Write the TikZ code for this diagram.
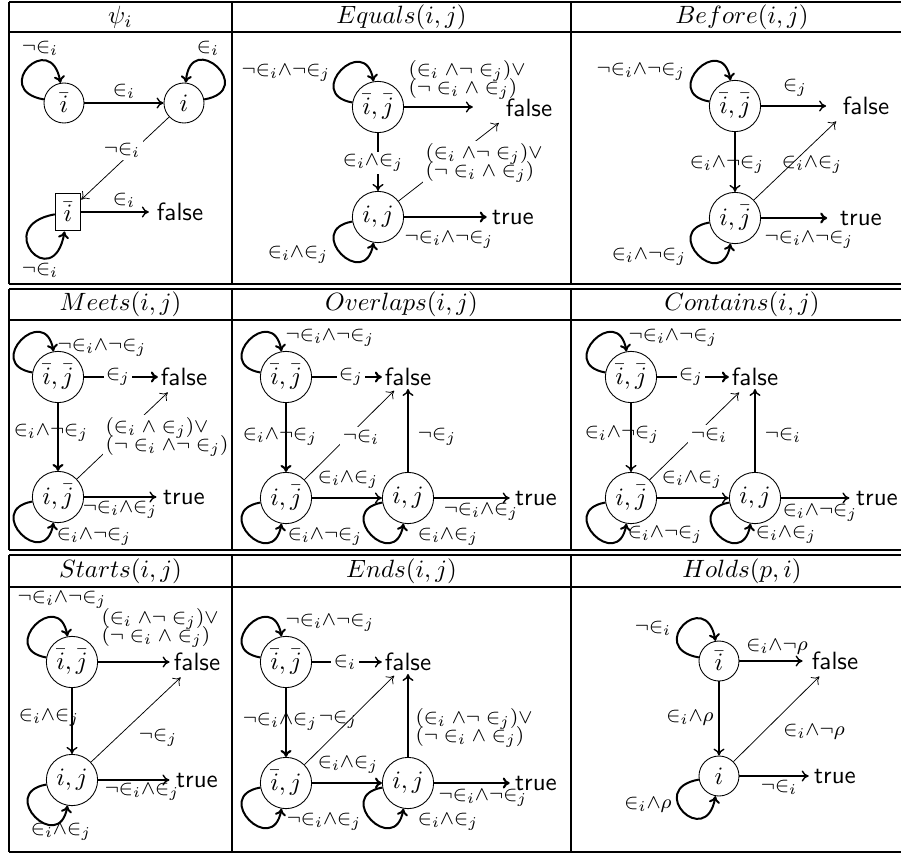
\documentclass[tikz,border=0pt]{standalone}
\usepackage{amsmath}
\usepackage{amssymb}
\usepackage{tikz}
\usetikzlibrary{arrows.meta}
\tikzset{
    stnode/.style={circle, draw, line width=0.35pt, minimum size=16pt, inner sep=1pt},
    pairnode/.style={stnode, minimum size=20.5pt, inner sep=0.5pt},
    sinknode/.style={rectangle, draw, line width=0.55pt, minimum width=10pt, minimum height=15pt, inner sep=1pt},
    endnode/.style={font=\sffamily, inner sep=1pt},
    lab/.style={font=\footnotesize, inner sep=1pt},
    cutlab/.style={lab, fill=white},
    twolab/.style={lab, align=left},
    hdr/.style={inner sep=0pt},
    edg/.style={->, line width=0.55pt},
    thinedg/.style={->, line width=0.3pt},
    boldedg/.style={->, line width=0.85pt},
    loopul/.style={->, line width=0.8pt, out=170, in=100, looseness=1, min distance=20pt},
    loopur/.style={->, line width=0.8pt, out=10, in=85, looseness=1, min distance=20pt},
    loopdl/.style={->, line width=0.8pt, out=190, in=260, looseness=1, min distance=20pt},
    tabline/.style={line width=0.7pt}
}
\begin{document}
\begin{tikzpicture}[x=0.4pt, y=0.4pt, >={To[length=2.8pt,width=4.4pt]}]
    \useasboundingbox (0,0) rectangle (901,-855);

    % --- BẢNG: đường kẻ ---
    \foreach \yy in {2,32,284,289,320,550,555,587,852}
        \draw[tabline] (9,-\yy) -- (901,-\yy);
    \foreach \xx in {9,232,571} {
        \draw[tabline] (\xx,-2) -- (\xx,-284);
        \draw[tabline] (\xx,-289) -- (\xx,-550);
        \draw[tabline] (\xx,-555) -- (\xx,-852);
    }

    % --- TIÊU ĐỀ ---
    \node[hdr] (h1) at (120.5,-17) {$\psi_i$};
    \node[hdr] (h2) at (401.5,-17) {$Equals(i,j)$};
    \node[hdr] (h3) at (742,-17) {$Before(i,j)$};
    \node[hdr] (h4) at (120.5,-304.5) {$Meets(i,j)$};
    \node[hdr] (h5) at (401.5,-304.5) {$Overlaps(i,j)$};
    \node[hdr] (h6) at (742,-304.5) {$Contains(i,j)$};
    \node[hdr] (h7) at (120.5,-571) {$Starts(i,j)$};
    \node[hdr] (h8) at (401.5,-571) {$Ends(i,j)$};
    \node[hdr] (h9) at (742,-571) {$Holds(p,i)$};

    % --- psi_i ---
    \node[stnode] (pN) at (64,-103) {$\bar{i}$};
    \node[stnode] (pI) at (184,-103) {$i$};
    \node[sinknode] (pB) at (68,-212) {$\bar{i}$};
    \node[endnode] (pF) at (180,-212) {false};
    \draw[loopul, min distance=22pt] (pN) to (pN);
    \node[lab] (l1a) at (40,-48) {$\neg{\in}_i$};
    \draw[loopur, min distance=22pt] (pI) to (pI);
    \node[lab] (l1b) at (208,-48) {${\in}_i$};
    \draw[edg] (pN) -- (pI);
    \node[lab] (l1c) at (124,-91) {${\in}_i$};
    \draw[thinedg] (pI) -- (pB);
    \node[cutlab] (l1d) at (122,-150) {$\neg{\in}_i$};
    \draw[edg, shorten >=2pt] (pB) -- (pF);
    \node[lab] (l1e) at (124,-200) {${\in}_i$};
    \draw[loopdl, min distance=26pt] (pB) to (pB);
    \node[lab] (l1f) at (40,-270) {$\neg{\in}_i$};

    % --- Equals ---
    \node[pairnode] (eqA) at (378,-107) {$\bar{i},\bar{j}$};
    \node[pairnode] (eqB) at (378,-217) {$i,j$};
    \node[endnode] (eqF) at (529,-108) {false};
    \node[endnode] (eqT) at (513,-217) {true};
    \draw[loopul] (eqA) to (eqA);
    \node[lab] (l2a) at (286,-73) {$\neg{\in}_i{\wedge}\neg{\in}_j$};
    \draw[edg, shorten >=12pt] (eqA) -- (eqA -| eqF.west);
    \node[twolab] (l2b) at (467,-80) {$(\in_i \wedge\neg \in_j)\vee$\\[-2pt]$(\neg \in_i \wedge \in_j)$};
    \draw[edg] (eqA) -- (eqB);
    \node[cutlab] (l2c) at (373,-163) {${\in}_i{\wedge}{\in}_j$};
    \draw[thinedg, shorten >=2pt] (eqB) -- (eqF.south west);
    \node[twolab, fill=white] (l2d) at (484,-163) {$(\in_i \wedge\neg \in_j)\vee$\\[-2pt]$(\neg \in_i \wedge \in_j)$};
    \draw[boldedg, shorten >=1pt] (eqB) -- (eqT);
    \node[lab] (l2e) at (449,-240) {$\neg{\in}_i{\wedge}\neg{\in}_j$};
    \draw[loopdl] (eqB) to (eqB);
    \node[lab] (l2f) at (298,-255) {${\in}_i{\wedge}{\in}_j$};

    % --- Before ---
    \node[pairnode] (bfA) at (735,-106) {$\bar{i},\bar{j}$};
    \node[pairnode] (bfB) at (735,-218) {$i,\bar{j}$};
    \node[endnode] (bfF) at (866,-106) {false};
    \node[endnode] (bfT) at (861,-218) {true};
    \draw[loopul] (bfA) to (bfA);
    \node[lab] (l3a) at (641,-72) {$\neg{\in}_i{\wedge}\neg{\in}_j$};
    \draw[edg, shorten >=5.5pt] (bfA) -- (bfF);
    \node[lab] (l3b) at (795,-88) {${\in}_j$};
    \draw[edg] (bfA) -- (bfB);
    \node[lab] (l3c) at (727,-165) {${\in}_i{\wedge}\neg{\in}_j$};
    \draw[thinedg, shorten >=2pt] (bfB) -- (bfF.south west);
    \node[lab] (l3d) at (812,-165) {${\in}_i{\wedge}{\in}_j$};
    \draw[boldedg, shorten >=4pt] (bfB) -- (bfT);
    \node[lab] (l3e) at (809,-240) {$\neg{\in}_i{\wedge}\neg{\in}_j$};
    \draw[loopdl] (bfB) to (bfB);
    \node[lab] (l3f) at (649,-257) {${\in}_i{\wedge}\neg{\in}_j$};

    % --- Meets ---
    \node[pairnode] (mtA) at (58,-377) {$\bar{i},\bar{j}$};
    \node[pairnode] (mtB) at (58,-497) {$i,\bar{j}$};
    \node[endnode] (mtF) at (184,-377) {false};
    \node[endnode] (mtT) at (184,-497) {true};
    \draw[loopul] (mtA) to (mtA);
    \node[lab] (l4a) at (102,-348) {$\neg{\in}_i{\wedge}\neg{\in}_j$};
    \draw[boldedg] (mtA) -- (mtF);
    \node[cutlab] (l4b) at (118,-377) {${\in}_j$};
    \draw[boldedg] (mtA) -- (mtB);
    \node[lab] (l4c) at (51,-433) {${\in}_i{\wedge}\neg{\in}_j$};
    \draw[thinedg, shorten >=2pt] (mtB) -- (mtF);
    \node[twolab, fill=white] (l4d) at (167,-437) {$(\in_i \wedge \in_j)\vee$\\[-2pt]$(\neg \in_i \wedge\neg \in_j)$};
    \draw[edg, shorten >=1.5pt] (mtB) -- (mtT);
    \node[lab] (l4e) at (120,-510) {$\neg{\in}_i{\wedge}{\in}_j$};
    \draw[loopdl] (mtB) to (mtB);
    \node[lab] (l4f) at (94,-537) {${\in}_i{\wedge}\neg{\in}_j$};

    % --- Overlaps ---
    \node[pairnode] (ovA) at (286,-377) {$\bar{i},\bar{j}$};
    \node[pairnode] (ovB) at (286,-498) {$i,\bar{j}$};
    \node[pairnode] (ovC) at (408,-498) {$i,j$};
    \node[endnode] (ovF) at (408,-377) {false};
    \node[endnode] (ovT) at (536,-498) {true};
    \draw[loopul] (ovA) to (ovA);
    \node[lab] (l5a) at (330,-338) {$\neg{\in}_i{\wedge}\neg{\in}_j$};
    \draw[boldedg] (ovA) -- (ovF);
    \node[cutlab] (l5b) at (351,-377) {${\in}_j$};
    \draw[boldedg] (ovA) -- (ovB);
    \node[lab] (l5c) at (280,-437) {${\in}_i{\wedge}\neg{\in}_j$};
    \draw[thinedg, shorten >=1pt] (ovB) -- (ovF);
    \node[cutlab] (l5d) at (361,-437) {$\neg{\in}_i$};
    \draw[edg] (ovC) -- (ovF);
    \node[lab] (l5e) at (437,-437) {$\neg{\in}_j$};
    \draw[edg] (ovB) -- (ovC);
    \node[lab] (l5f) at (348,-480) {${\in}_i{\wedge}{\in}_j$};
    \draw[edg, shorten >=1pt] (ovC) -- (ovT);
    \node[lab] (l5g) at (481,-512) {$\neg{\in}_i{\wedge}{\in}_j$};
    \draw[loopdl] (ovB) to (ovB);
    \node[lab] (l5h) at (325,-537) {${\in}_i{\wedge}\neg{\in}_j$};
    \draw[loopdl] (ovC) to (ovC);
    \node[lab] (l5i) at (448,-537) {${\in}_i{\wedge}{\in}_j$};

    % --- Contains ---
    \node[pairnode] (ctA) at (631,-377) {$\bar{i},\bar{j}$};
    \node[pairnode] (ctB) at (631,-498) {$i,\bar{j}$};
    \node[pairnode] (ctC) at (755,-498) {$i,j$};
    \node[endnode] (ctF) at (755,-377) {false};
    \node[endnode] (ctT) at (877,-498) {true};
    \draw[loopul] (ctA) to (ctA);
    \node[lab] (l6a) at (673,-338) {$\neg{\in}_i{\wedge}\neg{\in}_j$};
    \draw[boldedg] (ctA) -- (ctF);
    \node[cutlab] (l6b) at (691,-377) {${\in}_j$};
    \draw[edg] (ctA) -- (ctB);
    \node[lab] (l6c) at (622,-435) {${\in}_i{\wedge}\neg{\in}_j$};
    \draw[thinedg, shorten >=2pt] (ctB) -- (ctF);
    \node[cutlab] (l6d) at (709,-435) {$\neg{\in}_i$};
    \draw[edg] (ctC) -- (ctF);
    \node[lab] (l6e) at (783,-435) {$\neg{\in}_i$};
    \draw[edg] (ctB) -- (ctC);
    \node[lab] (l6f) at (692,-480) {${\in}_i{\wedge}{\in}_j$};
    \draw[edg, shorten >=1.5pt] (ctC) -- (ctT);
    \node[lab] (l6g) at (820,-513) {${\in}_i{\wedge}\neg{\in}_j$};
    \draw[loopdl] (ctB) to (ctB);
    \node[lab] (l6h) at (665,-535) {${\in}_i{\wedge}\neg{\in}_j$};
    \draw[loopdl] (ctC) to (ctC);
    \node[lab] (l6i) at (786,-535) {${\in}_i{\wedge}{\in}_j$};

    % --- Starts ---
    \node[pairnode] (stA) at (72,-662) {$\bar{i},\bar{j}$};
    \node[pairnode] (stB) at (72,-780) {$i,j$};
    \node[endnode] (stF) at (197,-662) {false};
    \node[endnode] (stT) at (197,-780) {true};
    \draw[loopul] (stA) to (stA);
    \node[lab] (l7a) at (62,-600) {$\neg{\in}_i{\wedge}\neg{\in}_j$};
    \draw[edg, shorten >=0.5pt] (stA) -- (stF);
    \node[twolab] (l7b) at (160,-628) {$(\in_i \wedge\neg \in_j)\vee$\\[-2pt]$(\neg \in_i \wedge \in_j)$};
    \draw[edg] (stA) -- (stB);
    \node[lab] (l7c) at (49,-718) {${\in}_i{\wedge}{\in}_j$};
    \draw[thinedg, shorten >=2pt] (stB) -- (stF);
    \node[lab] (l7d) at (158,-738) {$\neg{\in}_j$};
    \draw[edg, shorten >=1.5pt] (stB) -- (stT);
    \node[lab] (l7e) at (142,-792) {$\neg{\in}_i{\wedge}{\in}_j$};
    \draw[loopdl] (stB) to (stB);
    \node[lab] (l7f) at (61,-832) {${\in}_i{\wedge}{\in}_j$};

    % --- Ends ---
    \node[pairnode] (enA) at (286,-662) {$\bar{i},\bar{j}$};
    \node[pairnode] (enB) at (286,-783) {$\bar{i},j$};
    \node[pairnode] (enC) at (408,-783) {$i,j$};
    \node[endnode] (enF) at (408,-662) {false};
    \node[endnode] (enT) at (536,-783) {true};
    \draw[loopul] (enA) to (enA);
    \node[lab] (l8a) at (330,-623) {$\neg{\in}_i{\wedge}\neg{\in}_j$};
    \draw[edg] (enA) -- (enF);
    \node[cutlab] (l8b) at (345,-662) {${\in}_i$};
    \draw[boldedg] (enA) -- (enB);
    \node[lab] (l8c) at (280,-722) {$\neg{\in}_i{\wedge}{\in}_j$};
    \draw[thinedg, shorten >=1pt] (enB) -- (enF);
    \node[lab] (l8d) at (338,-720) {$\neg{\in}_j$};
    \draw[edg] (enC) -- (enF);
    \node[twolab] (l8e) at (474,-728) {$(\in_i \wedge\neg \in_j)\vee$\\[-2pt]$(\neg \in_i \wedge \in_j)$};
    \draw[boldedg] (enB) -- (enC);
    \node[lab] (l8f) at (348,-765) {${\in}_i{\wedge}{\in}_j$};
    \draw[boldedg, shorten >=1pt] (enC) -- (enT);
    \node[lab] (l8g) at (483,-798) {$\neg{\in}_i{\wedge}\neg{\in}_j$};
    \draw[loopdl] (enB) to (enB);
    \node[lab] (l8h) at (324,-822) {$\neg{\in}_i{\wedge}{\in}_j$};
    \draw[loopdl] (enC) to (enC);
    \node[lab] (l8i) at (448,-822) {${\in}_i{\wedge}{\in}_j$};

    % --- Holds ---
    \node[stnode] (hdA) at (719,-661) {$\bar{i}$};
    \node[stnode] (hdB) at (719,-776) {$i$};
    \node[endnode] (hdF) at (835,-661) {false};
    \node[endnode] (hdT) at (835,-776) {true};
    \draw[loopul, min distance=22pt] (hdA) to (hdA);
    \node[lab] (l9a) at (653,-628) {$\neg{\in}_i$};
    \draw[edg, shorten >=2.5pt] (hdA) -- (hdF);
    \node[lab] (l9b) at (777,-647) {${\in}_i{\wedge}\neg\rho$};
    \draw[edg] (hdA) -- (hdB);
    \node[lab] (l9c) at (690,-718) {${\in}_i{\wedge}\rho$};
    \draw[thinedg, shorten >=2pt] (hdB) -- (hdF);
    \node[lab] (l9d) at (814,-732) {${\in}_i{\wedge}\neg\rho$};
    \draw[edg, shorten >=1pt] (hdB) -- (hdT);
    \node[lab] (l9e) at (779,-787) {$\neg{\in}_i$};
    \draw[loopdl, min distance=22pt] (hdB) to (hdB);
    \node[lab] (l9f) at (648,-805) {${\in}_i{\wedge}\rho$};

\end{tikzpicture}
\end{document}
